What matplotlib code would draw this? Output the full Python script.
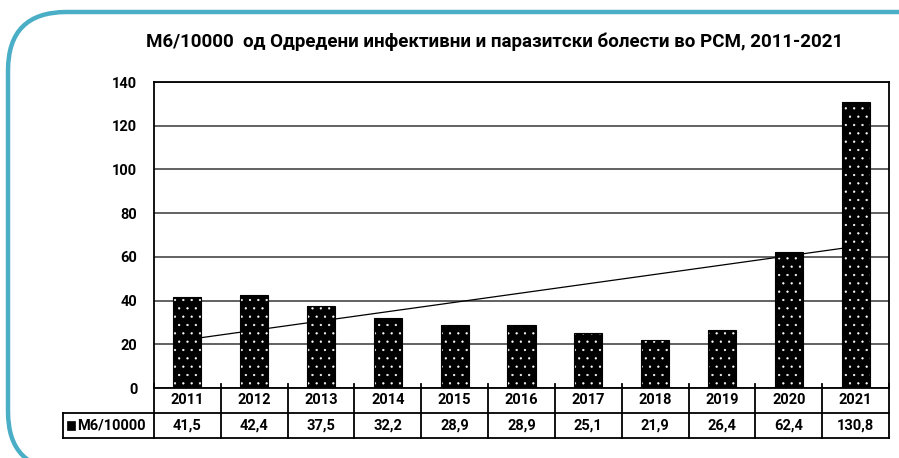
import numpy as np
import matplotlib
matplotlib.use("Agg")
import matplotlib.pyplot as plt
from matplotlib.patches import FancyBboxPatch, Rectangle

plt.rcParams['font.family'] = ['Roboto', 'DejaVu Sans']
plt.rcParams['hatch.linewidth'] = 0.4

years = ['2011', '2012', '2013', '2014', '2015', '2016', '2017', '2018', '2019', '2020', '2021']
values = [41.5, 42.4, 37.5, 32.2, 28.9, 28.9, 25.1, 21.9, 26.4, 62.4, 130.8]
series_name = 'M6/10000'
title = 'M6/10000  од Одредени инфективни и паразитски болести во РСМ, 2011-2021'
yticks = [0, 20, 40, 60, 80, 100, 120, 140]

W, H = 899, 458
fig = plt.figure(figsize=(W / 100, H / 100), dpi=100)

# teal rounded frame (cut off on the right and bottom)
frame = FancyBboxPatch((8 / W, 1 - 470 / H), 1200 / W, 458 / H,
                       boxstyle="round,pad=0,rounding_size=0.065",
                       transform=fig.transFigure, fill=False,
                       edgecolor='#4aaec7', linewidth=3.2, mutation_aspect=W / H)
fig.patches.append(frame)

ax = fig.add_axes([154 / W, 1 - 388 / H, 735 / W, 306 / H])
x = np.arange(len(years))

ax.bar(x, values, width=0.42, color='black', edgecolor='white', linewidth=0,
       hatch='..', zorder=3)
ax.bar(x, values, width=0.42, fill=False, edgecolor='black', linewidth=0.8, zorder=4)

# linear trend
k, b = np.polyfit(x, values, 1)
ax.plot([x[0], x[-1]], [k * x[0] + b, k * x[-1] + b], color='black', lw=0.9, zorder=5)

ax.set_xlim(-0.5, len(years) - 0.5)
ax.set_ylim(0, 140)
ax.set_yticks(yticks)
ax.set_yticklabels([str(t) for t in yticks], fontsize=10.5, fontweight='bold')
ax.tick_params(axis='y', length=0, pad=12)
ax.set_xticks([])
ax.yaxis.grid(True, color='#555555', lw=1.3, zorder=0)
for s in ax.spines.values():
    s.set_color('black')
    s.set_linewidth(1.3)

fig.text(495 / W, 1 - 42 / H, title, ha='center', va='center', fontsize=13.5, fontweight='bold')

# data table under the axis
rh = 25 / 306
left = (63 - 154) / 735
tr = ax.transAxes
kw = dict(transform=tr, clip_on=False, color='black')
ax.plot([0, 1], [-rh, -rh], lw=1.3, **kw)
ax.plot([left, 1], [-2 * rh, -2 * rh], lw=1.3, **kw)
ax.plot([left, 0], [-rh, -rh], lw=1.3, **kw)
ax.plot([left, left], [-rh, -2 * rh], lw=1.3, **kw)
n = len(years)
for i in range(n + 1):
    ax.plot([i / n, i / n], [0.012, -2 * rh], lw=1.3, **kw)
for i in range(n):
    cx = (i + 0.5) / n
    ax.text(cx, -rh / 2, years[i], transform=tr, ha='center', va='center',
            fontsize=10.5, fontweight='bold')
    ax.text(cx, -1.5 * rh, ('%.1f' % values[i]).replace('.', ','), transform=tr,
            ha='center', va='center', fontsize=10.5, fontweight='bold')
# legend key in header cell
ax.add_patch(Rectangle((left + 0.006, -1.5 * rh - 0.014), 0.010, 0.028, transform=tr,
                       clip_on=False, facecolor='black', edgecolor='black', lw=0.5))
ax.text(left + 0.019, -1.5 * rh, series_name, transform=tr, ha='left', va='center',
        fontsize=10.5, fontweight='bold')

fig.savefig('out.png', dpi=100)
